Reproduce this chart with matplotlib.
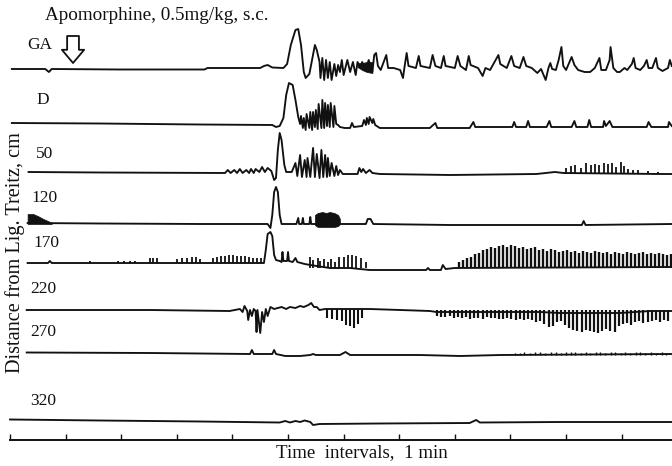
import matplotlib
matplotlib.use("Agg")
import matplotlib.pyplot as plt

plt.rcParams['font.family'] = ['Liberation Serif', 'DejaVu Serif']

# ---------------- data (time in s, deflection in arbitrary units) ----------------
time_ticks = [0, 60, 120, 180, 240, 300, 360, 420, 480, 540, 600, 660]
trace_labels = ['GA', 'D', '50', '120', '170', '220', '270', '320']

ga_t = [2, 38, 42, 45, 119, 210, 213, 270, 274, 278,
        283, 295, 299, 303, 308, 311, 314, 317, 319, 323,
        327, 329, 331, 334, 335, 337, 339, 341, 343, 345,
        347, 350, 352, 354, 356, 358, 360, 364, 367, 370,
        373, 375, 378, 380, 384, 387, 391, 393, 395, 397,
        400, 404, 406, 408, 414, 421, 424, 426, 428, 430,
        438, 441, 443, 453, 456, 459, 465, 468, 470, 480,
        483, 486, 492, 495, 497, 505, 510, 513, 518, 527,
        529, 536, 541, 544, 550, 554, 557, 563, 569, 573,
        578, 581, 583, 585, 589, 592, 595, 597, 600, 606,
        609, 613, 620, 626, 631, 636, 638, 643, 647, 648,
        651, 655, 658, 663, 666, 671, 673, 675, 680, 684,
        687, 689, 693, 697, 699, 704, 710, 712, 714]
ga_v = [0, 0, -3, 0, -0.5, -0.5, 1, 1, 3, 4,
        1.5, 1, 5, 24, 39, 40, 24, -3, -9, -5,
        14, 24, 19, 7, -9, 11, -11, 9, -9, 7,
        -11, 5, -7, 4, -3, 9, -6, 9, -3, 7,
        -6, 7, 1, 7, -1, 9, -3, 14, 16, 3,
        -1, 9, 14, 1, 1, -1, -9, 4, 16, 3,
        1, 13, 3, 1, 14, 3, 1, 13, 3, 1,
        13, 3, -1, 13, 4, 1, -7, 1, -1, 14,
        5, 1, 13, 3, 1, 12, 3, 1, -4, 0,
        -11, 1, 6, 0, -1, 9, 22, 3, -1, 12,
        4, -1, -3, -3, 1, 11, -1, -1, 9, 22,
        1, -3, -3, 1, -1, 5, 11, 1, -1, 3,
        9, 1, 1, 11, 1, -2, 1, 9, 3]
ga_fill_t = [375, 380, 385, 391]
ga_fill_top = [6, 6, 7, 7]
ga_fill_bot = [2, -1, -3, -4]

d_t = [2, 97, 205, 283, 287, 291, 295, 298, 301, 305,
       308, 311, 313, 314, 316, 317, 319, 320, 323, 324,
       326, 327, 329, 330, 332, 333, 336, 337, 339, 340,
       342, 343, 345, 346, 349, 350, 352, 354, 356, 361,
       367, 369, 371, 380, 382, 384, 385, 387, 388, 391,
       392, 394, 399, 453, 459, 461, 496, 500, 502, 542,
       544, 546, 557, 559, 561, 579, 582, 584, 606, 609,
       611, 623, 625, 627, 640, 641, 643, 647, 650, 687,
       689, 692, 710, 711, 714]
d_v = [2, 1.5, 0.5, 0, -2, -1, 7, 30, 42, 40,
       25, 8, 1, 9, -3, 7, -5, 11, -3, 13,
       -5, 13, -2, 15, -4, 21, -3, 25, -3, 22,
       -1, 20, -2, 22, -2, 19, 1, 0, -2, -3,
       -3, 2, -2, -1, 5, 0, 7, 1, 8, 2,
       6, 0, -3, -3, 2, -3, -3, 3, -2, -2,
       3, -2, -2, 4, -2, -2, 4, -2, -2, 4,
       -2, -2, 5, -2, -2, 4, -1, 4, -2, -2,
       3, -2, -2, 3, -1]

p50_t = [20, 97, 232, 235, 238, 242, 245, 248, 251, 255,
         258, 260, 263, 265, 269, 272, 275, 278, 282, 285,
         287, 289, 291, 293, 296, 298, 304, 308, 310, 313,
         315, 318, 320, 321, 324, 327, 329, 331, 334, 336,
         338, 340, 342, 343, 345, 347, 350, 352, 354, 356,
         359, 367, 375, 377, 379, 381, 384, 388, 391, 399,
         475, 568, 588, 597, 701, 714]
p50_v = [1, 0.5, 0, 3, 0, 3, 0, 4, 0, 3,
         0, 4, 0, 4, 1, 6, 1, 5, 2, -7,
         -5, 23, 40, 33, 8, 1, 1, 10, -3, 18,
         -4, 13, -4, 15, -4, 25, -4, 19, -5, 23,
         -4, 18, -4, 15, -3, 10, -3, 7, -2, 3,
         -1, -1, -1, 5, 1, 4, 0, 3, 0, -1,
         -2, -1, 1, 0, -1, -1]
p50_spk_t = [600, 605, 610, 616, 622, 627, 631, 636, 641, 645,
             650, 654, 659, 662, 667, 672, 678, 688, 699]
p50_spk_v = [5, 7, 8, 5, 10, 8, 9, 8, 10, 9,
             10, 6, 11, 7, 4, 3, 3, 2, 1]

p120_t = [19, 97, 205, 278, 281, 283, 285, 287, 289, 291,
          293, 309, 311, 312, 315, 316, 317, 323, 324, 325,
          361, 384, 386, 389, 392, 475, 617, 619, 621, 714]
p120_v = [0, -0.5, -1, -1, -5, 8, 31, 36, 31, 8,
          -1, -1, 5, -1, -1, 5, -1, -1, 6, -1,
          -1, -1, 4, 4, -1, -2, -2, 2, -2, -1]
p120_b1_t = [19, 25, 30, 36, 41, 45]
p120_b1_top = [9, 9, 7, 4, 2, 0]
p120_b1_bot = [-1, -1, -1, -1, -1, -1]
p120_b2_t = [329, 332, 337, 341, 345, 350, 354, 356]
p120_b2_top = [8, 10, 11, 10, 11, 10, 8, 4]
p120_b2_bot = [-2, -4, -4, -4, -4, -4, -3, -1]

p170_t = [19, 41, 43, 45, 274, 276, 278, 281, 283, 285,
          287, 291, 293, 294, 295, 299, 300, 301, 305, 308,
          310, 318, 324, 345, 367, 388, 421, 449, 451, 453,
          465, 467, 470, 480, 714]
p170_v = [0, 0, 2, 0, 0, 13, 29, 31, 27, 8,
          3, 2, 1, 11, 2, 2, 11, 2, 1, 5,
          1, -1, -2, -5, -5, -7, -7, -7, -5, -7,
          -7, -2, -6, -5, -4]
p170_spk1_t = [86, 117, 123, 129, 135, 151, 154, 159, 180, 186,
               191, 196, 201, 205, 219, 223, 228, 232, 236, 241,
               245, 249, 254, 258, 262, 267, 271]
p170_spk1_v = [2, 2, 2, 2, 2, 5, 5, 5, 4, 5,
               5, 6, 6, 4, 5, 6, 7, 7, 8, 8,
               7, 7, 7, 6, 5, 5, 5]
p170_spk2_t = [324, 327, 332, 335, 339, 343, 346, 351, 355, 360,
               365, 369, 373, 379, 384]
p170_spk2_v = [6, 3, 5, 2, 4, 1, 4, 1, 6, 6,
               8, 8, 7, 5, 1]
p170_spk3_t = [484, 489, 493, 497, 502, 506, 510, 515, 519, 523,
               528, 532, 536, 541, 545, 549, 554, 558, 562, 566,
               571, 575, 579, 584, 588, 592, 597, 601, 605, 610,
               614, 618, 623, 627, 631, 636, 640, 644, 648, 653,
               657, 661, 666, 670, 674, 679, 683, 687, 692, 696,
               700, 705, 709, 713]
p170_spk3_v = [1, 3, 5, 6, 9, 10, 13, 14, 16, 15,
               17, 18, 16, 18, 17, 15, 16, 14, 15, 16,
               13, 14, 12, 14, 13, 11, 12, 13, 11, 12,
               10, 12, 11, 10, 12, 11, 10, 11, 9, 11,
               10, 9, 11, 10, 9, 10, 11, 9, 10, 9,
               10, 9, 8, 9]

p220_t = [18, 151, 237, 248, 251, 253, 256, 257, 259, 261,
          263, 265, 266, 267, 270, 272, 274, 276, 278, 281,
          285, 289, 293, 298, 302, 308, 313, 317, 322, 325,
          328, 331, 334, 340, 383, 388, 421, 453, 460, 486,
          572, 593, 658, 691, 714]
p220_v = [0, 0, -1, 1, -2, 4, -1, -10, 0, -6,
          1, -1, -22, 0, -23, -2, -12, 1, -6, 3,
          1, 2, 3, 1, 3, 2, 4, 3, 5, 7,
          3, 3, 0, 1, 1, 1, 0, -1, -2, -2,
          -2, -3, -3, -1, -1]
p220_spk1_t = [342, 347, 353, 358, 363, 367, 371, 375, 380]
p220_spk1_v = [-8, -9, -10, -11, -15, -16, -18, -14, -8]
p220_spk2_t = [461, 465, 469, 475, 479, 483, 488, 492, 496, 501,
               505, 510, 515, 519, 523, 528, 532, 536, 541, 546,
               550, 555, 559, 563, 568, 572, 576, 582, 586, 590,
               595, 599, 603, 607, 612, 617, 622, 626, 630, 634,
               639, 643, 647, 653, 657, 661, 666, 670, 674, 679,
               683, 688, 693, 697, 701, 706, 710]
p220_spk2_v = [-6, -7, -7, -6, -8, -7, -8, -7, -9, -8,
               -8, -9, -7, -8, -8, -9, -9, -8, -9, -10,
               -9, -10, -9, -10, -12, -11, -14, -17, -16, -12,
               -11, -15, -18, -20, -21, -22, -20, -21, -22, -23,
               -21, -19, -21, -22, -16, -14, -13, -15, -12, -11,
               -13, -12, -11, -10, -12, -10, -11]

p270_t = [18, 151, 259, 261, 263, 283, 285, 287, 297, 313,
          324, 327, 330, 356, 362, 367, 442, 486, 529, 714]
p270_v = [0.5, 0, -1, 3, -1, -1, 3, -1, -3, -3,
          -2, -1, -2, -2, 1, -2, -2, -3, -2, -1]
p270_spk_t = [545, 550, 555, 561, 566, 572, 577, 584, 589, 594,
              600, 605, 610, 616, 621, 626, 632, 637, 642, 648,
              653, 659, 664, 669, 675, 680, 685, 692, 697, 703, 708]
p270_spk_v = [0, 0, 1, 0, 1, 1, 0, 1, 1, 0,
              1, 1, 1, 0, 1, 0, 1, 1, 0, 1,
              1, 0, 1, 0, 1, 1, 0, 1, 0, 1, 0]

p320_t = [0, 97, 205, 291, 297, 302, 308, 313, 318, 324,
          327, 334, 399, 496, 503, 507, 593, 714]
p320_v = [0.5, -0.5, -1.5, -2.5, -1, -2.5, -1, -2, -0.5, -2,
          -5, -4, -3.5, -3, 0, -2.5, -2, -2]

# ---------------- layout ----------------
INK = '#111111'
LW = 1.35
BASE = {'GA': 397, 'D': 341, '50': 293, '120': 243, '170': 203,
        '220': 156, '270': 113, '320': 46}
LABEL_POS = {'GA': (19, 421), 'D': (29, 366), '50': (28, 312), '120': (23, 268),
             '170': (25, 223), '220': (22, 177), '270': (22, 134), '320': (22, 65)}

fig = plt.figure(figsize=(6.72, 4.66), dpi=100)
ax = fig.add_axes([0, 0, 1, 1])
ax.set_xlim(-10.8, 714.3)
ax.set_ylim(0, 466)


def line(t, v, key, **kw):
    b = BASE[key]
    ax.plot(t, [b + x for x in v], color=INK, lw=LW, solid_joinstyle='round', **kw)


def spikes(t, v, key, ref, lw=1.3):
    b = BASE[key]
    ax.vlines(t, b + ref, [b + x for x in v], color=INK, lw=lw)


def blob(t, top, bot, key):
    b = BASE[key]
    ax.fill_between(t, [b + x for x in bot], [b + x for x in top], color=INK, lw=0.5)


line(ga_t, ga_v, 'GA')
blob(ga_fill_t, ga_fill_top, ga_fill_bot, 'GA')
line(d_t, d_v, 'D')
line(p50_t, p50_v, '50')
spikes(p50_spk_t, p50_spk_v, '50', -1)
line(p120_t, p120_v, '120')
blob(p120_b1_t, p120_b1_top, p120_b1_bot, '120')
blob(p120_b2_t, p120_b2_top, p120_b2_bot, '120')
line(p170_t, p170_v, '170')
spikes(p170_spk1_t, p170_spk1_v, '170', 0)
spikes(p170_spk2_t, p170_spk2_v, '170', -5)
spikes(p170_spk3_t, p170_spk3_v, '170', -5, lw=1.7)
line(p220_t, p220_v, '220')
spikes(p220_spk1_t, p220_spk1_v, '220', 1, lw=1.5)
spikes(p220_spk2_t, p220_spk2_v, '220', 0, lw=1.6)
line(p270_t, p270_v, '270')
spikes(p270_spk_t, p270_spk_v, '270', -2, lw=1.0)
line(p320_t, p320_v, '320')

for lab in trace_labels:
    x, y = LABEL_POS[lab]
    ax.text(x, y, lab, fontsize=12.5, ha='left', va='center', color=INK)

ax.text(38, 450, 'Apomorphine, 0.5mg/kg, s.c.', fontsize=13.8, ha='left',
        va='center', color=INK)
ax.text(5.4, 213, 'Distance from Lig. Treitz, cm', fontsize=14.6, rotation=90,
        ha='center', va='center', color=INK)
ax.text(380, 13, 'Time  intervals,  1 min', fontsize=13.6, ha='center',
        va='center', color=INK)

ax.annotate('', xy=(68, 403), xytext=(68, 430),
            arrowprops=dict(arrowstyle='simple,head_length=0.95,head_width=1.6,tail_width=0.85',
                            fc='white', ec=INK, lw=1.3, mutation_scale=10,
                            shrinkA=0, shrinkB=0))

for s in ['left', 'right', 'top']:
    ax.spines[s].set_visible(False)
ax.spines['bottom'].set_position(('data', 26))
ax.spines['bottom'].set_bounds(0, 714.3)
ax.spines['bottom'].set_linewidth(1.4)
ax.spines['bottom'].set_color(INK)
ax.set_xticks(time_ticks)
ax.tick_params(axis='x', direction='in', length=4, width=1.0, color=INK,
               labelbottom=False)
ax.set_yticks([])

fig.savefig('out.png', dpi=100, facecolor='white')
